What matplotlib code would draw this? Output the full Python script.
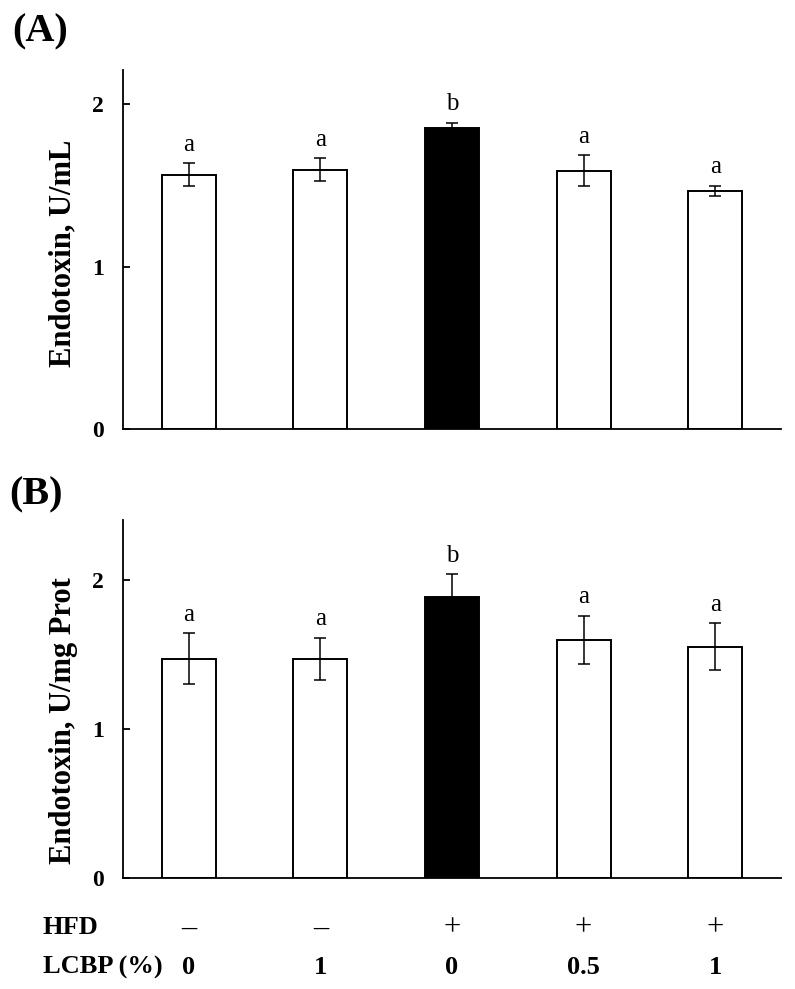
import matplotlib
matplotlib.use("Agg")
import matplotlib.pyplot as plt

plt.rcParams['font.family'] = ['Liberation Serif', 'DejaVu Serif']

# data
groups = ["0", "1", "0", "0.5", "1"]          # LCBP (%)
hfd = ["–", "–", "+", "+", "+"]
bar_colors = ["white", "white", "black", "white", "white"]

serum_mean = [1.566, 1.597, 1.856, 1.589, 1.467]
serum_err = [0.07, 0.07, 0.03, 0.095, 0.03]
serum_sig = ["a", "a", "b", "a", "a"]

tissue_mean = [1.47, 1.47, 1.881, 1.597, 1.552]
tissue_err = [0.17, 0.14, 0.155, 0.16, 0.155]
tissue_sig = ["a", "a", "b", "a", "a"]

x = list(range(len(groups)))

fig = plt.figure(figsize=(7.95, 9.89), dpi=100)
ax1 = fig.add_axes([0.1547, 0.5662, 0.8277, 0.3630])
ax2 = fig.add_axes([0.1547, 0.1122, 0.8277, 0.3620])


def draw_panel(ax, means, errs, sig, ymax, ylabel, label_y):
    ax.errorbar(x, means, yerr=errs, fmt='none', ecolor='black',
                elinewidth=1.1, capsize=4, capthick=1.1, zorder=3)
    ax.bar(x, means, width=0.41, color=bar_colors, edgecolor='black',
           linewidth=1.4, zorder=2)
    for xi, m, e, s in zip(x, means, errs, sig):
        ax.annotate(s, (xi, m + e), xytext=(0, 9), textcoords='offset points',
                    ha='center', va='baseline', fontsize=18)
    ax.set_xlim(-0.5, 4.5)
    ax.set_ylim(0, ymax)
    ax.set_yticks([0, 1, 2])
    ax.set_xticks([])
    ax.spines['top'].set_visible(False)
    ax.spines['right'].set_visible(False)
    ax.spines['left'].set_linewidth(1.3)
    ax.spines['bottom'].set_linewidth(1.3)
    ax.tick_params(axis='y', direction='in', length=5, width=1.3, pad=14,
                   labelsize=17)
    for t in ax.get_yticklabels():
        t.set_fontweight('bold')
    ax.set_ylabel(ylabel, fontsize=22, fontweight='bold')
    ax.yaxis.set_label_coords(-0.069, label_y)


draw_panel(ax1, serum_mean, serum_err, serum_sig, 2.21, "Endotoxin, U/mL", 0.489)
draw_panel(ax2, tissue_mean, tissue_err, tissue_sig, 2.40, "Endotoxin, U/mg Prot", 0.441)

# treatment rows under panel B
for xi, h, g in zip(x, hfd, groups):
    ax2.text(xi, -0.14, h, transform=ax2.get_xaxis_transform(),
             ha='center', va='center', fontsize=22)
    ax2.text(xi, -0.249, g, transform=ax2.get_xaxis_transform(),
             ha='center', va='center', fontsize=19, fontweight='bold')
fig.text(0.054, 1 - 928 / 989, "HFD", ha='left', va='center',
         fontsize=19, fontweight='bold')
fig.text(0.054, 1 - 967 / 989, "LCBP (%)", ha='left', va='center',
         fontsize=19, fontweight='bold')

fig.text(0.015, 1 - 32 / 989, "(A)", ha='left', va='center',
         fontsize=29, fontweight='bold')
fig.text(0.012, 1 - 495 / 989, "(B)", ha='left', va='center',
         fontsize=29, fontweight='bold')

fig.savefig("out.png", dpi=100)
